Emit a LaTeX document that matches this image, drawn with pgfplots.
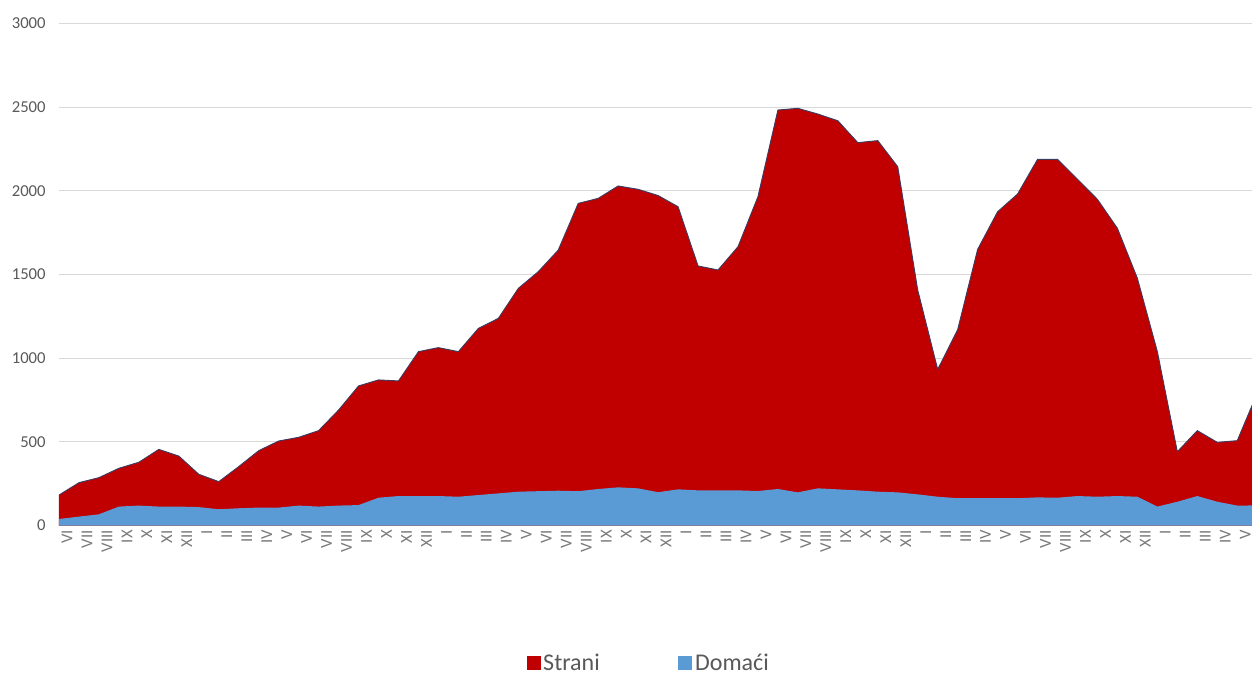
\documentclass[border=0pt]{standalone}
\usepackage{pgfplots}
\pgfplotsset{compat=1.18}
\usepackage{pgfplotstable}
\usepackage{fontspec}
\setmainfont{Carlito}

\definecolor{strani}{RGB}{192,0,0}
\definecolor{domaci}{RGB}{91,155,213}
\definecolor{rub}{RGB}{60,60,95}
\definecolor{mreza}{RGB}{217,217,217}
\definecolor{tekst}{RGB}{89,89,89}

% i = month index, dom = Domaći, str = Strani
\pgfplotstableread{
i dom str
0 39 143
1 53 203
2 67 219
3 113 229
4 119 259
5 113 342
6 113 302
7 110 196
8 97 165
9 103 249
10 107 340
11 107 398
12 119 408
13 113 454
14 119 571
15 122 712
16 166 704
17 176 688
18 176 863
19 176 887
20 172 867
21 182 996
22 192 1046
23 202 1215
24 205 1312
25 208 1438
26 205 1720
27 218 1737
28 228 1801
29 222 1787
30 199 1773
31 216 1689
32 210 1341
33 210 1317
34 210 1456
35 206 1759
36 218 2265
37 198 2295
38 222 2237
39 216 2203
40 210 2078
41 202 2098
42 198 1946
43 186 1221
44 172 761
45 163 1007
46 163 1487
47 163 1712
48 163 1818
49 168 2020
50 166 2022
51 176 1893
52 172 1777
53 176 1600
54 172 1305
55 113 926
56 142 299
57 176 391
58 142 355
59 119 388
60 120 670
}\podaci

\begin{document}
\begin{tikzpicture}
% page = 1252 x 674 px at 0.75pt per px; axis box starts at px (59, 525.5)
\useasboundingbox (-44.25pt,-111.375pt) rectangle (894.75pt,394.125pt);
\begin{axis}[
    scale only axis,
    width=894.75pt, height=376.5pt,
    xmin=0, xmax=59.74,
    ymin=0, ymax=3000,
    axis x line*=bottom, axis y line*=left,
    axis line style={-},
    y axis line style={draw=none},
    x axis line style={draw=mreza},
    major tick length=0pt,
    ytick={0,500,...,3000},
    ymajorgrids,
    grid style={mreza, line width=0.75pt},
    xtick={0,...,60},
    xticklabels={VI,VII,VIII,IX,X,XI,XII,I,II,III,IV,V,
                 VI,VII,VIII,IX,X,XI,XII,I,II,III,IV,V,
                 VI,VII,VIII,IX,X,XI,XII,I,II,III,IV,V,
                 VI,VII,VIII,IX,X,XI,XII,I,II,III,IV,V,
                 VI,VII,VIII,IX,X,XI,XII,I,II,III,IV,V,VI},
    /pgf/number format/assume math mode=true,
    /pgf/number format/1000 sep={},
    ticklabel style={font=\fontsize{12.5}{13}\selectfont, text=tekst},
    yticklabel style={xshift=-6.5pt},
    xticklabel style={rotate=90, anchor=east, yshift=-6pt, text=tekst!80},
    legend style={at={(0.4946,-0.274)}, anchor=center, draw=none,
        legend columns=2, font=\fontsize{18}{20}\selectfont, text=tekst,
        /tikz/every even column/.append style={column sep=57pt}},
    legend image code/.code={\fill[#1] (-3pt,-5pt) rectangle (7.5pt,5.5pt);},
]
\addplot[draw=none, fill=strani] table[x=i, y expr=\thisrow{dom}+\thisrow{str}] {\podaci} \closedcycle;
\addplot[draw=none, fill=domaci] table[x=i, y=dom] {\podaci} \closedcycle;
\addplot[draw=rub, line width=0.7pt, forget plot] table[x=i, y expr=\thisrow{dom}+\thisrow{str}] {\podaci};
\legend{Strani, Domaći}
\end{axis}
\end{tikzpicture}
\end{document}
